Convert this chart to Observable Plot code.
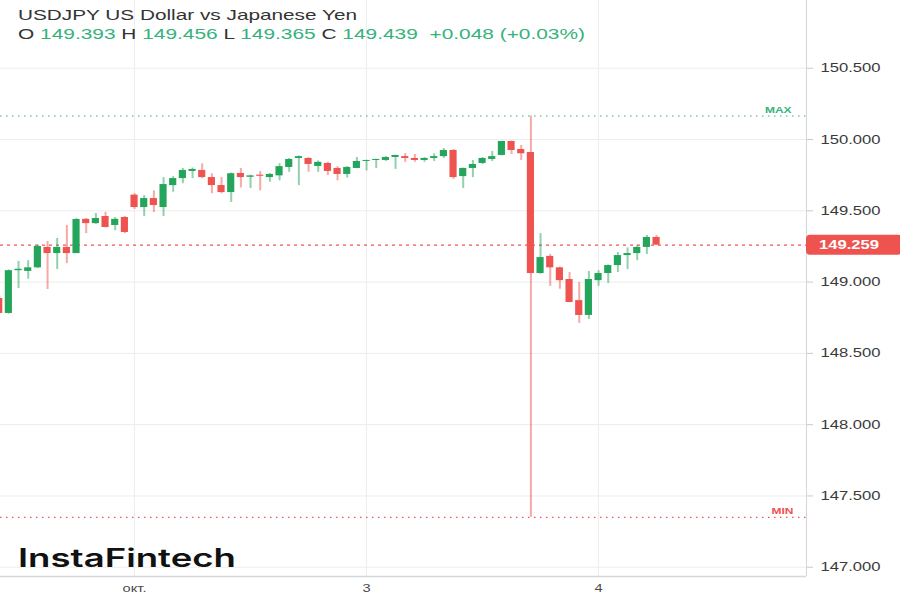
<!DOCTYPE html>
<html>
<head>
<meta charset="utf-8">
<script src="https://cdn.jsdelivr.net/npm/d3@7"></script>
<script src="https://cdn.jsdelivr.net/npm/@observablehq/plot@0.6"></script>
<style>
  body { margin: 0; background: #fff; }
  #wrap { position: relative; width: 900px; height: 600px; overflow: hidden; font-family: "Liberation Sans", Arial, sans-serif; }
  #chart svg { display: block; }
  .ov { position: absolute; left: 18px; white-space: nowrap; transform-origin: 0 50%; line-height: 1; }
  #t1 { top: 7px; font-size: 15px; color: #333; }
  #t2 { top: 26px; font-size: 15px; color: #333; }
  #t2 .g { color: #35b27c; }
  #logo { top: 546px; font-family: "Inter", sans-serif; font-weight: 600; font-size: 25px; color: #111; }
</style>
</head>
<body>
<div id="wrap">
  <div id="chart"></div>
  <div class="ov" id="t1"></div>
  <div class="ov" id="t2"></div>
  <div class="ov" id="logo"></div>
</div>
<script>
// ---- data (hourly candles, USDJPY) ----
const opens = [148.885,148.78,149.08,149.075,149.10,149.243,149.20,149.243,149.20,149.44,149.41,149.46,149.397,149.453,
  149.61,149.523,149.586,149.523,149.677,149.726,149.776,149.783,149.733,149.677,149.628,149.762,149.735,149.75,149.733,149.745,
  149.804,149.867,149.867,149.811,149.832,149.797,149.755,149.797,149.846,149.853,149.853,149.874,149.88,149.867,149.853,149.867,
  149.88,149.923,149.74,149.797,149.832,149.86,149.888,149.986,149.93,149.909,149.06,149.18,149.10,149.018,148.87,148.766,
  149.01,149.06,149.116,149.186,149.20,149.243,149.313];
const highs = [148.90,149.085,149.145,149.15,149.26,149.285,149.306,149.397,149.446,149.446,149.481,149.49,149.453,149.46,
  149.62,149.607,149.64,149.733,149.74,149.797,149.80,149.83,149.76,149.733,149.765,149.797,149.75,149.775,149.762,149.83,
  149.867,149.885,149.874,149.85,149.84,149.81,149.81,149.874,149.855,149.862,149.881,149.89,149.90,149.895,149.874,149.90,
  149.937,149.93,149.80,149.853,149.874,149.916,149.986,149.99,149.958,150.165,149.34,149.194,149.105,149.067,148.997,149.074,
  149.08,149.12,149.207,149.24,149.257,149.327,149.327];
const lows = [148.775,148.775,148.955,149.02,149.095,148.948,149.088,149.13,149.20,149.34,149.405,149.38,149.36,149.34,
  149.51,149.46,149.488,149.46,149.63,149.69,149.726,149.726,149.62,149.62,149.558,149.66,149.656,149.64,149.70,149.71,
  149.77,149.677,149.77,149.77,149.748,149.71,149.73,149.795,149.78,149.797,149.846,149.79,149.84,149.84,149.84,149.846,
  149.867,149.72,149.656,149.733,149.825,149.846,149.885,149.895,149.853,147.35,149.055,148.97,148.95,148.855,148.71,148.738,
  148.97,148.99,149.067,149.088,149.15,149.194,149.257];
const closes = [148.78,149.08,149.09,149.10,149.25,149.20,149.243,149.20,149.439,149.41,149.446,149.383,149.44,149.348,
  149.523,149.586,149.537,149.684,149.726,149.783,149.79,149.733,149.677,149.628,149.76,149.733,149.745,149.742,149.755,149.81,
  149.86,149.88,149.825,149.84,149.776,149.755,149.804,149.846,149.853,149.86,149.874,149.888,149.867,149.853,149.867,149.88,
  149.923,149.733,149.797,149.825,149.867,149.88,149.986,149.923,149.90,149.06,149.172,149.10,149.01,148.857,148.766,149.018,
  149.06,149.116,149.186,149.20,149.243,149.313,149.259];
const yTicks = [147.0, 147.5, 148.0, 148.5, 149.0, 149.5, 150.0, 150.5];
const dayIdx = [14, 38, 62];
const dayLabels = ["окт.", "3", "4"];
const maxV = 150.165, minV = 147.35;
const title = "USDJPY US Dollar vs Japanese Yen";
const ohlc = [["O", "149.393"], ["H", "149.456"], ["L", "149.365"], ["C", "149.439"]];
const change = "+0.048 (+0.03%)";

const GREEN = "#24a55c", RED = "#ef5350", TXTG = "#35b27c";
const candles = opens.map((o, i) => ({i, open: o, high: highs[i], low: lows[i], close: closes[i]}));
const col = d => d.close >= d.open ? GREEN : RED;
const lastClose = closes[closes.length - 1];

const chart = Plot.plot({
  width: 900, height: 600,
  marginLeft: 0, marginRight: 94, marginTop: 0, marginBottom: 24,
  x: {domain: [0.134, 83.51], axis: null, label: null},
  y: {domain: [146.935, 150.975], axis: null, label: null},
  style: {fontFamily: "'Liberation Sans', Arial, sans-serif", fontSize: "12.5px", color: "#3a3a3a", background: "#fff", overflow: "visible"},
  marks: [
    Plot.gridY(yTicks, {stroke: "#ededed", strokeOpacity: 1}),
    Plot.gridX(dayIdx, {stroke: "#ededed", strokeOpacity: 1}),
    Plot.ruleY([maxV], {stroke: TXTG, strokeDasharray: "1.5,4.5", strokeWidth: 1.2}),
    Plot.ruleY([minV], {stroke: RED, strokeDasharray: "1.5,4.5", strokeWidth: 1.2}),
    Plot.ruleY([lastClose], {stroke: RED, strokeDasharray: "3,4", strokeWidth: 1.2}),
    Plot.text(["MAX"], {y: maxV, frameAnchor: "right", textAnchor: "end", dx: -15, dy: -6, fontSize: 9, fontWeight: 600, fill: TXTG}),
    Plot.text(["MIN"], {y: minV, frameAnchor: "right", textAnchor: "end", dx: -13, dy: -6, fontSize: 9, fontWeight: 600, fill: RED}),
    Plot.ruleX(candles, {x: "i", y1: "low", y2: "high", stroke: col, strokeWidth: 2, strokeOpacity: 0.5, clip: true}),
    Plot.rect(candles, {x1: d => d.i - 0.37, x2: d => d.i + 0.37, y1: "open", y2: "close", fill: col, clip: true}),
    Plot.ruleX([83.51], {stroke: "#d3d7dd"}),
    Plot.ruleY([146.935], {stroke: "#d3d7dd", strokeWidth: 1.5}),
    Plot.axisY(yTicks, {anchor: "right", label: null, tickFormat: d => d.toFixed(3), tickSize: 6, tickPadding: 8, stroke: "#c6cad0", fill: "#3a3a3a"}),
    Plot.axisX(dayIdx, {anchor: "bottom", label: null, tickFormat: d => dayLabels[dayIdx.indexOf(d)], tickSize: 0, tickPadding: 8, fill: "#4a4a4a", fontSize: 11})
  ]
});

// price label on the right axis
const yPos = chart.scale("y").apply(lastClose);
const svg = d3.select(chart);
const g = svg.append("g");
g.append("rect").attr("x", 806).attr("y", yPos - 10).attr("width", 96).attr("height", 20).attr("rx", 4).attr("fill", RED);
g.append("text").attr("x", 819).attr("y", yPos).attr("dy", "0.35em").attr("fill", "#fff")
  .attr("font-weight", "bold").attr("font-size", "12.5px").attr("text-anchor", "start").text(lastClose.toFixed(3));

// horizontal stretch of all text, like the reference screenshot (about each text's own anchor x)
svg.selectAll("text").each(function() {
  const t = this;
  const xa = parseFloat(t.getAttribute("x"));
  const x = isFinite(xa) ? xa : 0;
  t.setAttribute("transform", (t.getAttribute("transform") || "") + ` translate(${x},0) scale(1.33,1) translate(${-x},0)`);
});

document.getElementById("chart").appendChild(chart);

// header & logo
document.getElementById("t1").textContent = title;
const t2 = document.getElementById("t2");
t2.innerHTML = ohlc.map(([k, v]) => `${k} <span class="g">${v}</span>`).join(" ") + `&nbsp; <span class="g">${change}</span>`;
document.getElementById("logo").textContent = "InstaFintech";
function fit(id, w) {
  const el = document.getElementById(id);
  const cw = el.getBoundingClientRect().width;
  el.style.transform = `scaleX(${w / cw})`;
}
fit("t1", 339); fit("t2", 567); fit("logo", 218);
</script>
</body>
</html>
